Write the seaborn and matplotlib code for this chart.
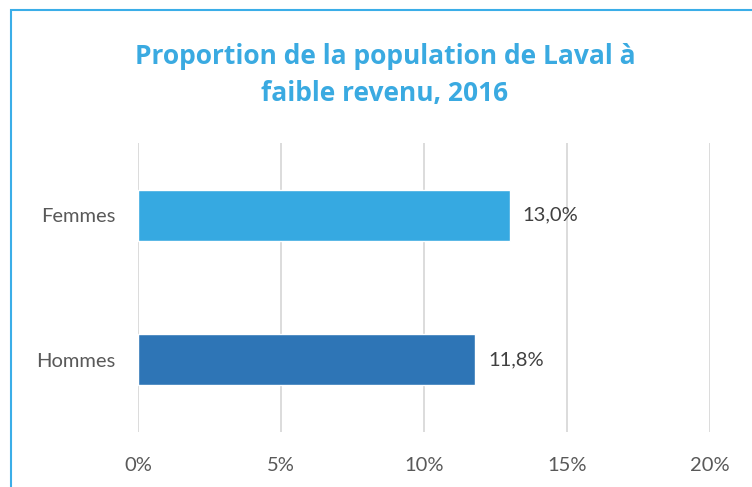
import pandas as pd
import matplotlib.pyplot as plt
import seaborn as sns
from matplotlib.patches import Rectangle
from matplotlib.ticker import FuncFormatter

# Données
categories = ['Femmes', 'Hommes']
valeurs = [13.0, 11.8]
couleurs = ['#36A9E1', '#2E75B6']

df = pd.DataFrame({'sexe': categories, 'proportion': valeurs})

sns.set_style('white')
plt.rcParams['font.family'] = ['Lato', 'DejaVu Sans']

fig = plt.figure(figsize=(7.52, 4.87), dpi=100)
ax = fig.add_axes([138 / 752, 1 - 432 / 487, (710 - 138) / 752, (432 - 143) / 487])

sns.barplot(data=df, x='proportion', y='sexe', hue='sexe', palette=couleurs,
            orient='h', width=0.35, saturation=1, legend=False, ax=ax, zorder=3)

ax.set_xlim(0, 20)
ax.set_xticks([0, 5, 10, 15, 20])
ax.xaxis.set_major_formatter(FuncFormatter(lambda v, p: f'{int(v)}%'))
ax.grid(axis='x', color='#D9D9D9', linewidth=1.3, zorder=0)
ax.grid(axis='y', visible=False)
for s in ax.spines.values():
    s.set_visible(False)
ax.tick_params(axis='both', length=0, labelsize=14.5, labelcolor='#595959')
ax.tick_params(axis='x', pad=18)
ax.tick_params(axis='y', pad=16)
ax.set_xlabel('')
ax.set_ylabel('')

# Étiquettes des valeurs
for i, v in enumerate(valeurs):
    ax.text(v + 0.45, i, f'{v:.1f}%'.replace('.', ','), va='center', ha='left',
            fontsize=14.5, color='#404040')

fig.text(385 / 752, 1 - 75 / 487, 'Proportion de la population de Laval à\nfaible revenu, 2016',
         ha='center', va='center', fontsize=19, fontweight='bold', color='#3AAAE1',
         linespacing=1.5, family=['Open Sans', 'DejaVu Sans'])

# Cadre
fig.patches.append(Rectangle((11 / 752, -0.1), 1.2, (487 - 10) / 487 + 0.1,
                             transform=fig.transFigure, fill=False,
                             edgecolor='#3BAEE8', linewidth=1.5))

plt.savefig('out.png', dpi=100)
